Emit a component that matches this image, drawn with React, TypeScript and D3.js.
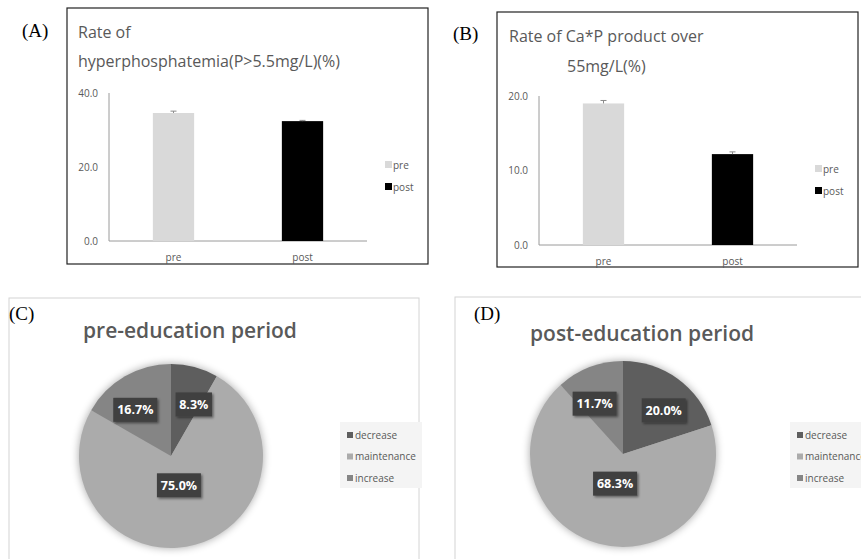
import React from "react";
import * as d3 from "d3";

// ---------- data ----------
const barCategories = ["pre", "post"];
const hyperPValues = [34.6, 32.4];
const hyperPErrors = [0.5, 0.2];
const hyperPTicks = [0, 20, 40];
const caPValues = [19.0, 12.2];
const caPErrors = [0.4, 0.3];
const caPTicks = [0, 10, 20];
const barColors = ["#d9d9d9", "#000000"];

const pieCategories = ["decrease", "maintenance", "increase"];
const preEducation = [8.3, 75.0, 16.7];
const postEducation = [20.0, 68.3, 11.7];
const pieColors = ["#5e5e5e", "#ababab", "#858585"];

const FONT = "'Open Sans', 'Noto Sans', sans-serif";
const TEXT_GRAY = "#595959";

type BarProps = {
  tag: string;
  tagX: number;
  tagY: number;
  box: [number, number, number, number];
  titleLines: { text: string; x: number; y: number }[];
  values: number[];
  errors: number[];
  ticks: number[];
  xRange: [number, number];
  yRange: [number, number];
  legendX: number;
  legendY: number;
};

function BarPanel(p: BarProps) {
  const x = d3.scaleBand<string>().domain(barCategories).range(p.xRange).padding(0);
  const y = d3
    .scaleLinear()
    .domain([0, p.ticks[p.ticks.length - 1]])
    .range(p.yRange);
  const bw = x.bandwidth() * 0.32;
  const [bx, by, bwid, bh] = p.box;
  return (
    <g>
      <text x={p.tagX} y={p.tagY} fontFamily="'Liberation Serif', 'Times New Roman', serif" fontSize={19} fill="#000">
        {p.tag}
      </text>
      <rect x={bx} y={by} width={bwid} height={bh} fill="#fff" stroke="#222" strokeWidth={1.2} />
      {p.titleLines.map((t, i) => (
        <text key={i} x={t.x} y={t.y} fontFamily={FONT} fontSize={16} fill={TEXT_GRAY}>
          {t.text}
        </text>
      ))}
      <line x1={p.xRange[0]} x2={p.xRange[0]} y1={y(0)} y2={y(p.ticks[p.ticks.length - 1])} stroke="#9a9a9a" />
      <line x1={p.xRange[0]} x2={p.xRange[1]} y1={y(0)} y2={y(0)} stroke="#9a9a9a" />
      {p.ticks.map((t) => (
        <text key={t} x={p.xRange[0] - 11} y={y(t) + 3.5} textAnchor="end" fontFamily={FONT} fontSize={10} fill={TEXT_GRAY}>
          {t.toFixed(1)}
        </text>
      ))}
      {barCategories.map((c, i) => {
        const cx = (x(c) as number) + x.bandwidth() / 2;
        return (
          <g key={c}>
            <rect x={cx - bw / 2} y={y(p.values[i])} width={bw} height={y(0) - y(p.values[i])} fill={barColors[i]} />
            <line x1={cx} x2={cx} y1={y(p.values[i])} y2={y(p.values[i] + p.errors[i])} stroke="#8a8a8a" />
            <line x1={cx - 3} x2={cx + 3} y1={y(p.values[i] + p.errors[i])} y2={y(p.values[i] + p.errors[i])} stroke="#8a8a8a" />
            <text x={cx} y={y(0) + 20} textAnchor="middle" fontFamily={FONT} fontSize={10} fill={TEXT_GRAY}>
              {c}
            </text>
          </g>
        );
      })}
      {barCategories.map((c, i) => (
        <g key={"lg" + c}>
          <rect x={p.legendX} y={p.legendY + i * 22 - 4} width={7} height={7} fill={barColors[i]} />
          <text x={p.legendX + 8} y={p.legendY + i * 22 + 3.5} fontFamily={FONT} fontSize={10} fill={TEXT_GRAY}>
            {c}
          </text>
        </g>
      ))}
    </g>
  );
}

type PieProps = {
  id: string;
  tag: string;
  tagX: number;
  tagY: number;
  boxX: number;
  boxY: number;
  boxW: number;
  title: string;
  titleX: number;
  titleY: number;
  values: number[];
  cx: number;
  cy: number;
  r: number;
  legendX: number;
  legendY: number;
};

function PiePanel(p: PieProps) {
  const pie = d3.pie<number>().sort(null).value((d) => d);
  const arcs = pie(p.values);
  const arc = d3.arc<d3.PieArcDatum<number>>().innerRadius(0).outerRadius(p.r);
  return (
    <g>
      <rect x={p.boxX} y={p.boxY} width={p.boxW} height={400} fill="#fff" stroke="#d4d4d4" />
      <text x={p.tagX} y={p.tagY} fontFamily="'Liberation Serif', 'Times New Roman', serif" fontSize={19} fill="#000">
        {p.tag}
      </text>
      <text x={p.titleX} y={p.titleY} fontFamily={FONT} fontWeight={600} fontSize={21} fill={TEXT_GRAY}>
        {p.title}
      </text>
      <g transform={`translate(${p.cx},${p.cy})`}>
        <circle r={p.r} fill="#fff" filter={`url(#${p.id}-shadow)`} />
        {arcs.map((a, i) => (
          <path key={i} d={arc(a) as string} fill={pieColors[i]} />
        ))}
        {arcs.map((a, i) => {
          const frac = (a.endAngle - a.startAngle) / (2 * Math.PI);
          const big = frac > 0.5;
          const lr = big ? p.r * 0.33 : p.r * 0.58;
          const mid = (a.startAngle + a.endAngle) / 2;
          const s = Math.sin(mid);
          const lx = s * lr + (big ? 0 : Math.sign(s) * 9);
          const ly = -Math.cos(mid) * lr;
          const label = p.values[i].toFixed(1) + "%";
          const w = label.length * 7.6 + 6;
          return (
            <g key={"l" + i} transform={`translate(${lx},${ly})`}>
              <rect x={-w / 2} y={-12} width={w} height={24} fill="#3f3f3f" filter={`url(#${p.id}-lshadow)`} />
              <text x={0} y={4.5} textAnchor="middle" fontFamily={FONT} fontWeight="bold" fontSize={12.5} fill="#fff">
                {label}
              </text>
            </g>
          );
        })}
      </g>
      <rect x={p.legendX} y={p.legendY} width={82} height={66} fill="#f4f4f4" />
      {pieCategories.map((c, i) => (
        <g key={c}>
          <rect x={p.legendX + 7} y={p.legendY + 10 + i * 21.5} width={6} height={6} fill={pieColors[i]} />
          <text x={p.legendX + 15} y={p.legendY + 16.5 + i * 21.5} fontFamily={FONT} fontSize={10} fill={TEXT_GRAY}>
            {c}
          </text>
        </g>
      ))}
    </g>
  );
}

export default function App() {
  return (
    <svg width={861} height={559} style={{ position: "absolute", left: 0, top: 0, background: "#fff" }}>
      <defs>
        {["c", "d"].map((id) => (
          <React.Fragment key={id}>
            <filter id={`${id}-shadow`} x="-20%" y="-20%" width="140%" height="140%">
              <feGaussianBlur stdDeviation={4} />
              <feComponentTransfer>
                <feFuncA type="linear" slope={0.35} />
              </feComponentTransfer>
              <feColorMatrix type="matrix" values="0 0 0 0 0  0 0 0 0 0  0 0 0 0 0  0 0 0 1 0" />
            </filter>
            <filter id={`${id}-lshadow`} x="-30%" y="-30%" width="160%" height="160%">
              <feDropShadow dx={1.5} dy={1.5} stdDeviation={1.2} floodColor="#000" floodOpacity={0.45} />
            </filter>
          </React.Fragment>
        ))}
      </defs>
      <BarPanel
        tag="(A)"
        tagX={22}
        tagY={37}
        box={[67, 8, 361, 256]}
        titleLines={[
          { text: "Rate of", x: 78, y: 38 },
          { text: "hyperphosphatemia(P>5.5mg/L)(%)", x: 78, y: 67 },
        ]}
        values={hyperPValues}
        errors={hyperPErrors}
        ticks={hyperPTicks}
        xRange={[109, 367]}
        yRange={[241, 93]}
        legendX={385}
        legendY={165}
      />
      <BarPanel
        tag="(B)"
        tagX={453}
        tagY={40}
        box={[497, 12, 361, 255]}
        titleLines={[
          { text: "Rate of Ca*P product over", x: 509, y: 42 },
          { text: "55mg/L(%)", x: 567, y: 72 },
        ]}
        values={caPValues}
        errors={caPErrors}
        ticks={caPTicks}
        xRange={[539, 797]}
        yRange={[245, 96]}
        legendX={815}
        legendY={169}
      />
      <PiePanel
        id="c"
        tag="(C)"
        tagX={9}
        tagY={320}
        boxX={9}
        boxY={298}
        boxW={410}
        title="pre-education period"
        titleX={83}
        titleY={338}
        values={preEducation}
        cx={171}
        cy={456}
        r={92}
        legendX={340}
        legendY={422}
      />
      <PiePanel
        id="d"
        tag="(D)"
        tagX={474}
        tagY={320}
        boxX={455}
        boxY={297}
        boxW={420}
        title="post-education period"
        titleX={530}
        titleY={341}
        values={postEducation}
        cx={623}
        cy={454}
        r={93}
        legendX={790}
        legendY={422}
      />
    </svg>
  );
}
